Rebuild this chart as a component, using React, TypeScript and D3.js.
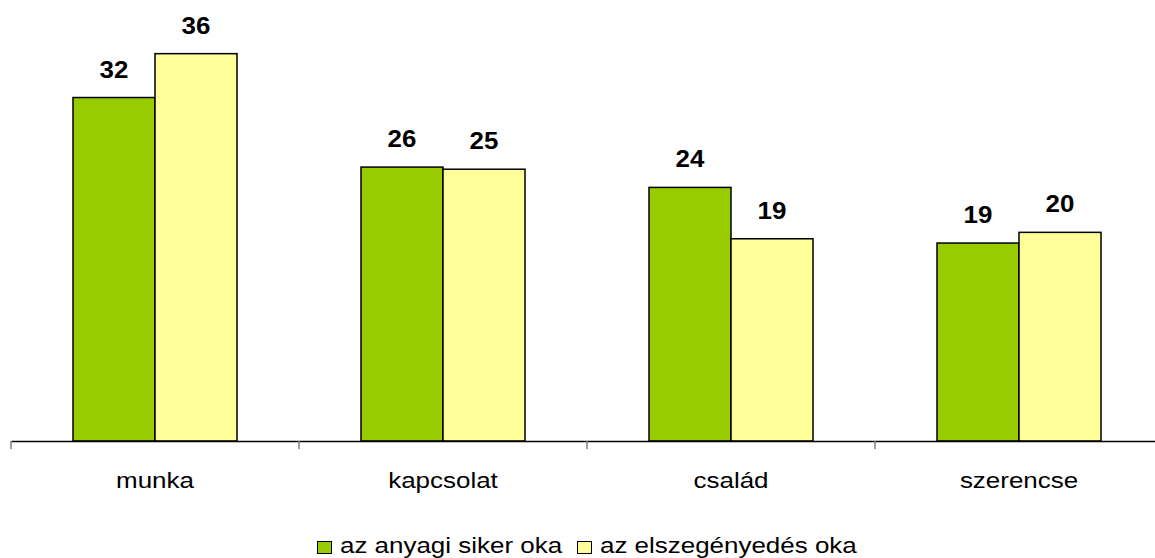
import React, { useRef, useEffect } from 'react';
import * as d3 from 'd3';

const categories = ['munka', 'kapcsolat', 'család', 'szerencse'];
const seriesNames = ['az anyagi siker oka', 'az elszegényedés oka'];
const sikerValues = [32.1, 25.6, 23.7, 18.5];
const elszegenyedesValues = [36.2, 25.4, 18.9, 19.5];
const colors = ['#99CC00', '#FFFF99'];

// the reference is stretched horizontally a bit
const SX = 1.18;

export default function App() {
  const svgRef = useRef<SVGSVGElement>(null);
  const width = 1155;
  const height = 558;

  useEffect(() => {
    if (!svgRef.current) return;
    const svg = d3.select(svgRef.current);
    svg.selectAll('*').remove();

    const baseline = 441;
    const left = 11;
    const right = 1163;

    const x = d3.scaleBand().domain(categories).range([left, right]);
    const inner = d3.scaleBand().domain(['0', '1']).range([62, x.bandwidth() - 62]);
    const y = d3.scaleLinear().domain([0, 40]).range([baseline, baseline - 428]);

    const data = categories.map((c, i) => ({ c, v: [sikerValues[i], elszegenyedesValues[i]] }));
    const font = 'Arial, "Liberation Sans", sans-serif';

    const groups = svg.append('g').selectAll('g').data(data).enter().append('g')
      .attr('transform', d => `translate(${x(d.c)},0)`);

    groups.selectAll('rect').data(d => d.v.map((v, k) => ({ v, k }))).enter().append('rect')
      .attr('x', d => inner(String(d.k))!)
      .attr('y', d => y(d.v))
      .attr('width', inner.bandwidth())
      .attr('height', d => baseline - y(d.v))
      .attr('fill', d => colors[d.k])
      .attr('stroke', '#000')
      .attr('stroke-width', 1.5);

    groups.selectAll('text.val').data(d => d.v.map((v, k) => ({ v, k }))).enter().append('text')
      .attr('class', 'val')
      .attr('transform', d => `translate(${inner(String(d.k))! + inner.bandwidth() / 2},${y(d.v) - 20}) scale(1.08,1)`)
      .attr('text-anchor', 'middle')
      .attr('font-family', font)
      .attr('font-weight', 'bold')
      .attr('font-size', 24)
      .text(d => d3.format('.0f')(d.v));

    // x axis
    const axis = svg.append('g').attr('transform', `translate(0,${baseline})`)
      .call(d3.axisBottom(x).tickSize(0).tickFormat(() => ''));
    axis.select('.domain').attr('stroke', '#000').attr('stroke-width', 1.5);

    svg.append('g').selectAll('text').data(categories).enter().append('text')
      .attr('transform', d => `translate(${x(d)! + x.bandwidth() / 2},488) scale(${SX},1)`)
      .attr('text-anchor', 'middle')
      .attr('font-family', font)
      .attr('font-size', 22)
      .text(d => d);

    const bounds = [left, ...categories.map(c => x(c)! + x.bandwidth())];
    svg.append('g').selectAll('line').data(bounds).enter().append('line')
      .attr('x1', d => d).attr('x2', d => d)
      .attr('y1', baseline).attr('y2', baseline + 8)
      .attr('stroke', '#808080').attr('stroke-width', 1.5);

    // legend
    const legend = svg.append('g').attr('transform', 'translate(317,553)');
    const offsets = [0, 260];
    seriesNames.forEach((name, i) => {
      const g = legend.append('g').attr('transform', `translate(${offsets[i]},0)`);
      g.append('rect').attr('x', 0.5).attr('y', -11.5).attr('width', 14).attr('height', 12)
        .attr('fill', colors[i]).attr('stroke', '#000').attr('stroke-width', 1);
      g.append('text').attr('transform', `translate(23,0) scale(${SX},1)`)
        .attr('font-family', font).attr('font-size', 22).text(name);
    });
  }, []);

  return (
    <svg ref={svgRef} width={width} height={height}
      style={{ position: 'absolute', left: 0, top: 0, background: '#fff' }} />
  );
}
